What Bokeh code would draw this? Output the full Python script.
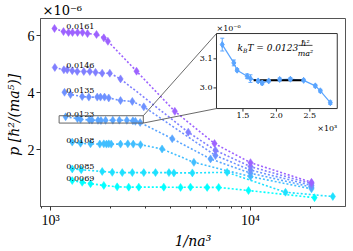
import math
from bokeh.plotting import figure
from bokeh.models import Range1d, LinearScale, FixedTicker
from bokeh.embed import file_html
from bokeh.resources import INLINE
from bokeh.core.properties import value

# ---------------- data (y in units of 1e-6) ----------------
temps = ["0.0069", "0.0085", "0.0108", "0.0123", "0.0135", "0.0146", "0.0161"]
colors = ["#00ffff", "#1ee1ff", "#41beff", "#5aa5ff", "#6e91ff", "#807fff", "#9d62ff"]

x_0069 = [1284, 1440, 1585, 1847, 2154, 2460, 2763, 3685, 4470, 5010, 6070, 6930, 9770, 20900]
y_0069 = [0.91, 0.85, 0.80, 0.74, 0.69, 0.68, 0.68, 0.68, 0.67, 0.68, 0.67, 0.67, 0.56, 0.31]

x_0085 = [1284, 1424, 1813, 2036, 2284, 2565, 2927, 3350, 3910, 4140, 5120, 7640, 14960, 25800]
y_0085 = [1.32, 1.29, 1.23, 1.20, 1.19, 1.19, 1.19, 1.19, 1.19, 1.18, 1.18, 1.20, 0.50, 0.35]

x_0108 = [1284, 1413, 1585, 1764, 1847, 1905, 1956, 2010, 2239, 2435, 2592, 2818, 3612, 5210, 10000, 20180]
y_0108 = [2.26, 2.22, 2.20, 2.19, 2.20, 2.19, 2.20, 2.19, 2.19, 2.20, 2.19, 2.17, 2.02, 1.55, 1.05, 0.62]

x_0123 = [1190, 1363, 1413, 1563, 1612, 1727, 1787, 1885, 2049, 2209, 2407, 2582, 2657, 2806, 4060, 6310, 10000, 20180]
y_0123 = [3.149, 3.086, 3.061, 3.040, 3.032, 3.024, 3.017, 3.024, 3.029, 3.030, 3.026, 3.007, 2.990, 2.949, 2.38, 1.67, 1.17, 0.68]

x_0135 = [1175, 1259, 1440, 1555, 1712, 1778, 1862, 1955, 2239, 2565, 2927, 6680, 10000, 20180]
y_0135 = [4.01, 3.93, 3.86, 3.84, 3.84, 3.84, 3.84, 3.81, 3.72, 3.69, 3.50, 1.79, 1.28, 0.74]

x_0146 = [1051, 1166, 1212, 1284, 1360, 1467, 1572, 1679, 1813, 1979, 2239, 4882, 6680, 10000, 20180]
y_0146 = [4.88, 4.80, 4.80, 4.77, 4.74, 4.74, 4.74, 4.71, 4.68, 4.68, 4.48, 2.61, 1.97, 1.40, 0.80]

x_0161 = [1047, 1161, 1230, 1288, 1365, 1445, 1531, 1698, 1847, 1936, 2692, 4184, 6607, 10000, 20180]
y_0161 = [6.25, 6.14, 6.11, 6.11, 6.11, 6.11, 6.07, 6.04, 5.92, 5.80, 4.75, 3.34, 2.21, 1.54, 0.85]

series_x = [x_0069, x_0085, x_0108, x_0123, x_0135, x_0146, x_0161]
series_y = [y_0069, y_0085, y_0108, y_0123, y_0135, y_0146, y_0161]

# inset (kBT = 0.0123): x in units of 1e3, y in units of 1e-6
inset_x = [1.190, 1.363, 1.413, 1.563, 1.612, 1.727, 1.787, 1.885, 2.049, 2.209, 2.407, 2.582, 2.657, 2.806]
inset_y = [3.149, 3.086, 3.061, 3.040, 3.032, 3.024, 3.017, 3.024, 3.029, 3.030, 3.026, 3.007, 2.990, 2.949]
inset_err = [0.022, 0.010, 0.005, 0.008, 0.013, 0.005, 0.006, 0.004, 0.005, 0.005, 0.004, 0.005, 0.005, 0.006]
plateau_x = [1.66, 2.41]
plateau_y = [3.026, 3.026]

main_xticks = [1000, 10000]
main_xticklabels = ["10\u00b3", "10\u2074"]
main_xminor = [900, 2000, 3000, 4000, 5000, 6000, 7000, 8000, 9000, 20000, 30000]
main_yticks = [2, 4, 6]
inset_xticks = [1.5, 2.0, 2.5]
inset_xticklabels = ["1.5", "2.0", "2.5"]
inset_yticks = [3.0, 3.1]
inset_yticklabels = ["3.0", "3.1"]

# ---------------- layout ----------------
XS, XE = 891, 29850
YS, YE = 0.0, 6.6
IX0, IX1 = 1.104, 2.910
IY0, IY1 = 2.929, 3.187
FX0, FX1 = 0.577, 0.973
FY0, FY1 = 0.521, 0.920

W, H = 353, 251
ML, MR, MT, MB = 40, 8, 18, 45
frame_w = W - ML - MR
frame_h = H - MT - MB

p = figure(width=W, height=H, x_axis_type="log",
           x_range=Range1d(XS, XE), y_range=Range1d(YS, YE),
           output_backend="svg", toolbar_location=None,
           title="\u00d710\u207b\u2076",
           min_border_left=ML, min_border_right=MR,
           min_border_top=MT, min_border_bottom=MB)
p.title.align = "left"
p.title.text_font = "DejaVu Serif"
p.title.text_font_size = "13px"
p.title.text_font_style = "normal"
p.title.text_color = "black"
p.title.standoff = 1
p.title.offset = 2
p.xgrid.visible = False
p.ygrid.visible = False
p.outline_line_color = "#555555"
p.outline_line_width = 1
p.background_fill_color = "white"
p.border_fill_color = "white"

span_x = (IX1 - IX0) / (FX1 - FX0)
sx0 = IX0 - FX0 * span_x
span_y = (IY1 - IY0) / (FY1 - FY0)
sy0 = IY0 - FY0 * span_y
p.extra_x_ranges = {"inset": Range1d(sx0, sx0 + span_x)}
p.extra_y_ranges = {"inset": Range1d(sy0, sy0 + span_y)}
p.extra_x_scales = {"inset": LinearScale()}
p.extra_y_scales = {"inset": LinearScale()}

serif_num = "Liberation Serif"
serif_lbl = "DejaVu Serif"
for ax in (p.xaxis[0], p.yaxis[0]):
    ax.axis_line_color = "#555555"
    ax.major_tick_line_color = "#333333"
    ax.minor_tick_line_color = "#333333"
    ax.major_tick_in = 0
    ax.major_tick_out = 4
    ax.minor_tick_in = 0
    ax.minor_tick_out = 2
    ax.major_label_text_font = serif_num
    ax.major_label_text_font_size = "14px"
    ax.major_label_text_color = "black"
    ax.axis_label_text_font = serif_lbl
    ax.axis_label_text_font_size = "14px"
    ax.axis_label_text_font_style = "italic"
    ax.axis_label_text_color = "black"
    ax.major_label_standoff = 2

p.xaxis.ticker = FixedTicker(ticks=main_xticks, minor_ticks=main_xminor)
p.xaxis.major_label_overrides = {t: l for t, l in zip(main_xticks, main_xticklabels)}
p.xaxis.axis_label = "1/na\u00b3"
p.xaxis.axis_label_standoff = 2
p.yaxis.ticker = FixedTicker(ticks=main_yticks, minor_ticks=[])
p.yaxis.axis_label = "p  [\u210f\u00b2/(ma\u2075)]"
p.yaxis.axis_label_standoff = 3

# ---------------- main series ----------------
for xs, ys, c in zip(series_x, series_y, colors):
    p.line(xs, ys, line_color=c, line_width=1.6, line_dash="2 2")
for xs, ys, c in zip(series_x, series_y, colors):
    p.scatter(xs, ys, marker="diamond", size=8, fill_color=c, line_color=c, line_width=0.5)

label_x = 1200
p.text(x=[label_x] * len(temps), y=[ys[0] for ys in series_y], text=temps,
       text_font=value(serif_lbl), text_font_size="8px", text_color="black",
       text_baseline="alphabetic", text_align="left", y_offset=-2)

# zoom rectangle + connectors
p.quad(left=IX0 * 1000, right=IX1 * 1000, bottom=IY0, top=IY1,
       fill_alpha=0, line_color="#666666", line_width=1)
lx0, lx1 = math.log10(XS), math.log10(XE)
cx = 10 ** (lx0 + FX0 * (lx1 - lx0))
cy_top = YS + FY1 * (YE - YS)
cy_bot = YS + FY0 * (YE - YS)
p.segment(x0=[IX1 * 1000, IX1 * 1000], y0=[IY1, IY0], x1=[cx, cx], y1=[cy_top, cy_bot],
          line_color="#444444", line_width=0.8)

# ---------------- inset ----------------
ins = dict(x_range_name="inset", y_range_name="inset", level="overlay")
p.quad(left=IX0, right=IX1, bottom=IY0, top=IY1, fill_color="white",
       line_color="#333333", line_width=1, **ins)
c123 = colors[3]
p.line(inset_x, inset_y, line_color=c123, line_width=1.2, **ins)
p.line(plateau_x, plateau_y, line_color="black", line_width=2, **ins)
lo = [y - e for y, e in zip(inset_y, inset_err)]
hi = [y + e for y, e in zip(inset_y, inset_err)]
p.segment(x0=inset_x, y0=lo, x1=inset_x, y1=hi, line_color=c123, line_width=1, **ins)
p.scatter(inset_x, lo, marker="dash", size=4, line_color=c123, **ins)
p.scatter(inset_x, hi, marker="dash", size=4, line_color=c123, **ins)
p.scatter(inset_x, inset_y, marker="diamond", size=6, fill_color=c123, line_color=c123, **ins)

inset_w_px = frame_w * (FX1 - FX0)
inset_h_px = frame_h * (FY1 - FY0)
tl_y = 3 * (IY1 - IY0) / inset_h_px
tl_x = 3 * (IX1 - IX0) / inset_w_px
p.segment(x0=inset_xticks, y0=[IY0] * 3, x1=inset_xticks, y1=[IY0 - tl_y] * 3,
          line_color="#333333", line_width=1, **ins)
p.segment(x0=[IX0] * 2, y0=inset_yticks, x1=[IX0 - tl_x] * 2, y1=inset_yticks,
          line_color="#333333", line_width=1, **ins)
p.text(x=inset_xticks, y=[IY0] * 3, text=inset_xticklabels, y_offset=4,
       text_align="center", text_baseline="top", text_font=value(serif_lbl),
       text_font_size="8px", text_color="black", **ins)
p.text(x=[IX0] * 2, y=inset_yticks, text=inset_yticklabels, x_offset=-4,
       text_align="right", text_baseline="middle", text_font=value(serif_lbl),
       text_font_size="8px", text_color="black", **ins)
p.text(x=[IX0], y=[IY1], text=["\u00d710\u207b\u2076"], y_offset=-1,
       text_align="left", text_baseline="bottom", text_font=value(serif_lbl),
       text_font_size="8px", text_color="black", **ins)
p.text(x=[IX1], y=[IY0], text=["\u00d710\u00b3"], y_offset=15,
       text_align="right", text_baseline="top", text_font=value(serif_lbl),
       text_font_size="8px", text_color="black", **ins)

# kBT annotation
ax_, ay_ = 1.418, 3.136
tf = dict(text_font=value(serif_lbl), text_color="black", text_baseline="alphabetic", **ins)
p.text(x=[ax_], y=[ay_], text=["k"], text_font_size="9px", text_font_style="italic", **tf)
p.text(x=[ax_], y=[ay_], text=["B"], x_offset=5.5, y_offset=2, text_font_size="6px",
       text_font_style="italic", **tf)
p.text(x=[ax_], y=[ay_], text=["T = 0.0123"], x_offset=10, text_font_size="9px",
       text_font_style="italic", **tf)
p.text(x=[ax_], y=[ay_], text=["\u210f\u00b2"], x_offset=68, y_offset=-5, text_align="center",
       text_font_size="8px", text_font_style="italic", **tf)
p.text(x=[ax_], y=[ay_], text=["ma\u00b2"], x_offset=68, y_offset=5, text_align="center",
       text_font_size="8px", text_font_style="italic", **tf)
px_per_ix = inset_w_px / (IX1 - IX0)
px_per_iy = inset_h_px / (IY1 - IY0)
p.segment(x0=[ax_ + 61 / px_per_ix], y0=[ay_ + 3 / px_per_iy],
          x1=[ax_ + 75 / px_per_ix], y1=[ay_ + 3 / px_per_iy],
          line_color="black", line_width=0.7, **ins)

open("out.html", "w").write(file_html(p, INLINE))
